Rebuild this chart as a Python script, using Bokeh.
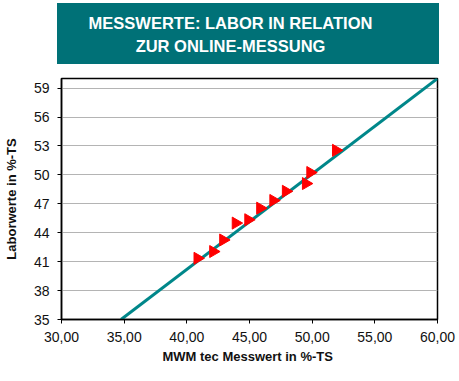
import math
from bokeh.plotting import figure
from bokeh.models import Div, FixedTicker, Range1d
from bokeh.layouts import column
from bokeh.embed import file_html
from bokeh.resources import INLINE

# Data
online_x = [40.85, 42.1, 42.9, 43.9, 44.9, 45.85, 46.9, 47.9, 49.5, 49.85, 51.9]
labor_y = [41.35, 42.05, 43.25, 45.0, 45.35, 46.55, 47.35, 48.3, 49.1, 50.25, 52.55]
fit_x = [34.75, 60.0]
fit_y = [35.0, 60.0]
x_ticks = [30, 35, 40, 45, 50, 55, 60]
x_tick_labels = ["30,00", "35,00", "40,00", "45,00", "50,00", "55,00", "60,00"]
y_ticks = [35, 38, 41, 44, 47, 50, 53, 56, 59]

title_html = (
    '<div style="width:382px;height:61px;box-sizing:border-box;background:#007177;'
    'color:#ffffff;font-family:\'Liberation Sans\',Arial,sans-serif;font-weight:bold;'
    'font-size:16.5px;line-height:23px;text-align:center;padding:8.5px 35px 0 0;">'
    'MESSWERTE: LABOR IN RELATION<br>ZUR ONLINE-MESSUNG</div>'
)
header = Div(text=title_html, width=382, height=61, margin=(3, 0, 0, 57))

p = figure(width=459, height=317, output_backend="svg", toolbar_location=None,
           x_range=Range1d(30, 60), y_range=Range1d(35, 60),
           min_border_left=57, min_border_right=22, min_border_top=14, min_border_bottom=62)

p.line(fit_x, fit_y, line_color="#00878a", line_width=3)
p.scatter(online_x, labor_y, marker="triangle", size=12, angle=-math.pi / 2,
          fill_color="#ff0000", line_color="#ff0000")

p.xaxis.ticker = FixedTicker(ticks=x_ticks)
p.xaxis.major_label_overrides = {t: l for t, l in zip(x_ticks, x_tick_labels)}
p.yaxis.ticker = FixedTicker(ticks=y_ticks)

p.xaxis.axis_label = "MWM tec Messwert  in %-TS"
p.yaxis.axis_label = "Laborwerte in %-TS"
for ax in (p.xaxis, p.yaxis):
    ax.axis_label_text_font = "Liberation Sans"
    ax.axis_label_text_font_style = "bold"
    ax.axis_label_text_font_size = "13px"
    ax.axis_label_text_color = "#111111"
    ax.major_label_text_font = "Liberation Sans"
    ax.major_label_text_font_size = "14px"
    ax.major_label_text_color = "#111111"
    ax.axis_line_color = "#000000"
    ax.axis_line_width = 1.5
    ax.major_tick_line_color = "#000000"
    ax.major_tick_out = 4
    ax.major_tick_in = 0
    ax.minor_tick_line_color = None
p.xaxis.major_label_standoff = 8
p.xaxis.axis_label_standoff = 4
p.yaxis.major_label_standoff = 8
p.yaxis.axis_label_standoff = 12

p.xgrid.grid_line_color = None
p.ygrid.grid_line_color = "#b4b4b4"
p.ygrid.grid_line_width = 1
p.outline_line_color = "#000000"
p.outline_line_width = 1.5
p.background_fill_color = "#ffffff"

layout = column(header, p, spacing=0)
open("out.html", "w").write(file_html(layout, INLINE))
